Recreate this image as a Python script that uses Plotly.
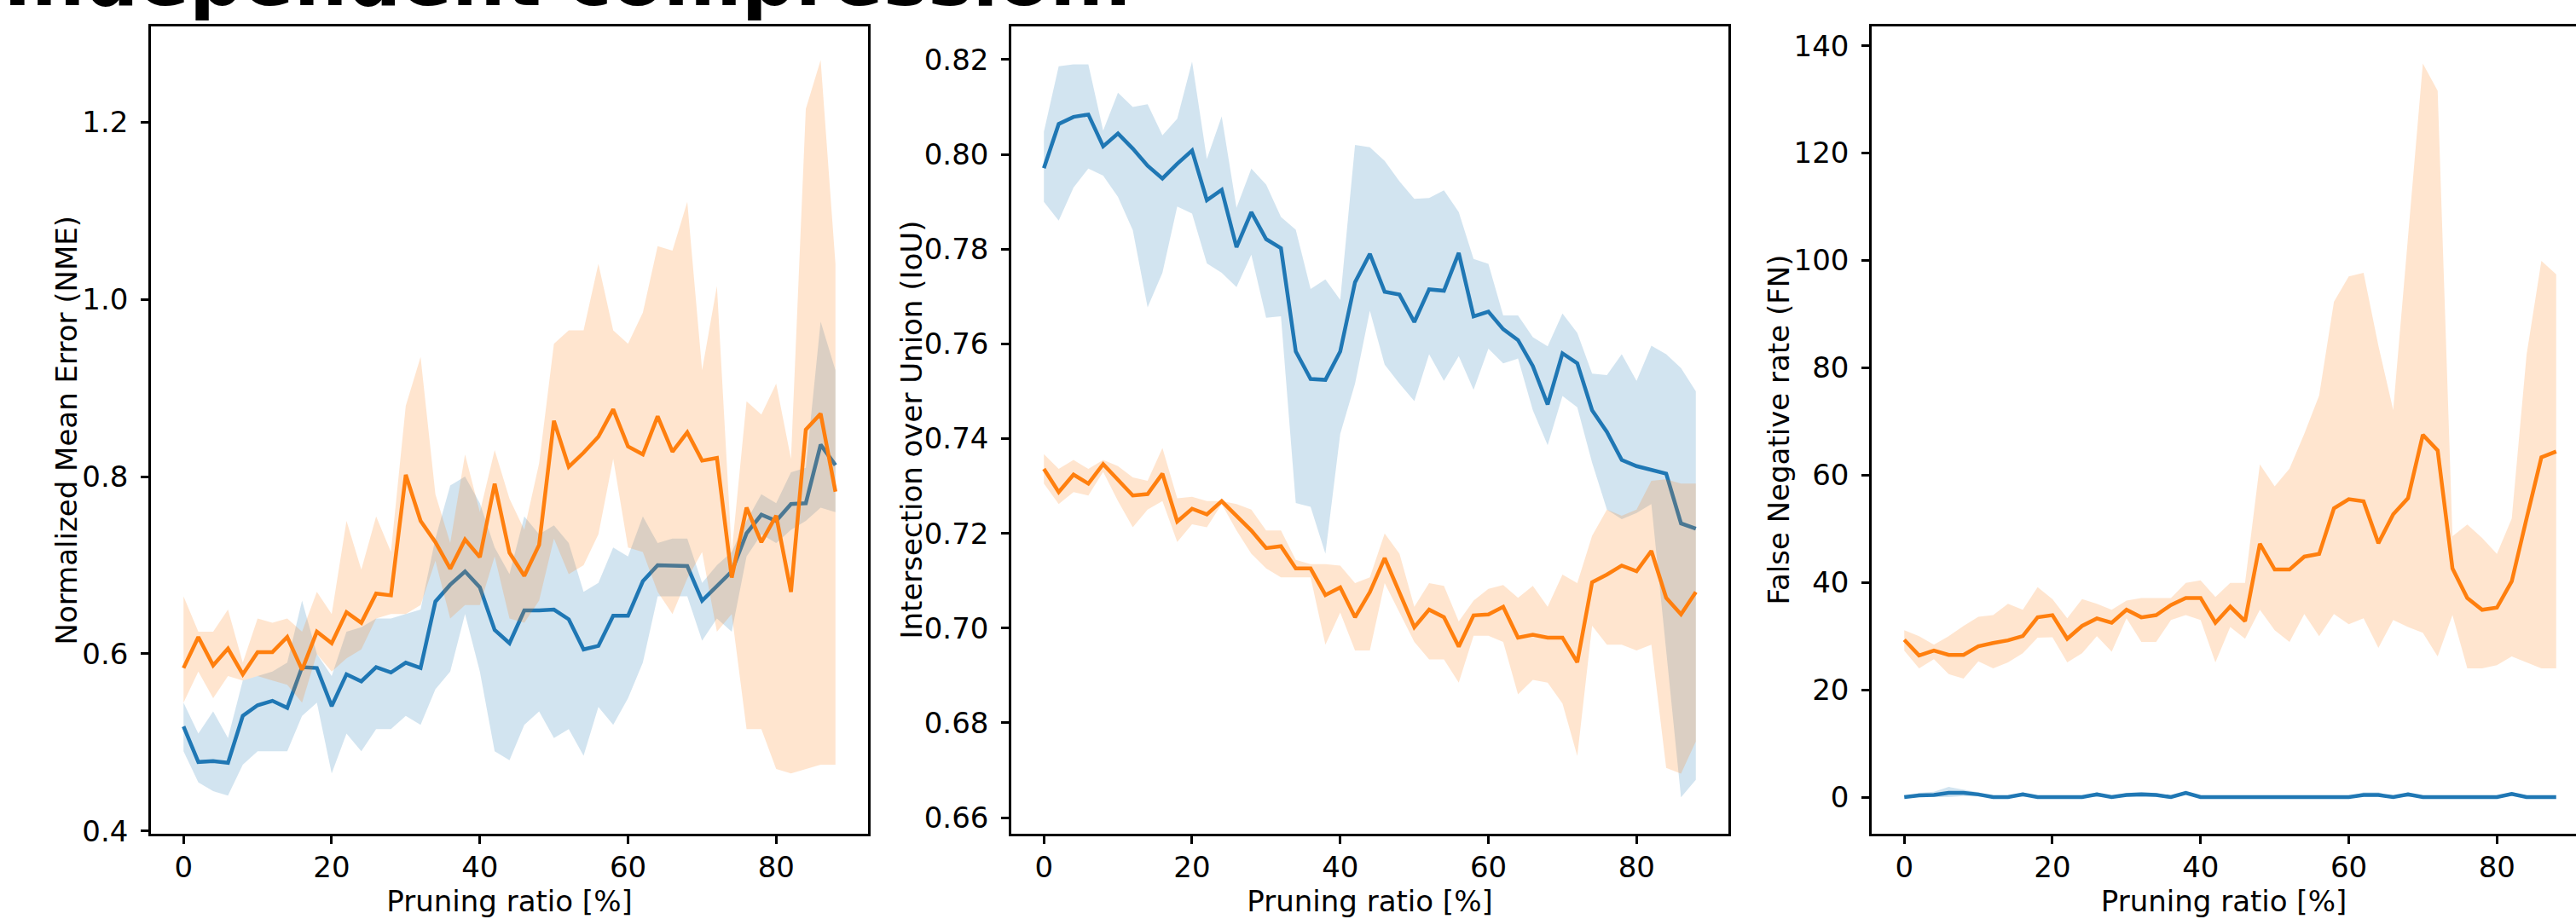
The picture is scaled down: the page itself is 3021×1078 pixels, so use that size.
import plotly.graph_objects as go

# ---------------- data ----------------
pruning = [0, 2, 4, 6, 8, 10, 12, 14, 16, 18, 20, 22, 24, 26, 28, 30, 32, 34, 36, 38,
           40, 42, 44, 46, 48, 50, 52, 54, 56, 58, 60, 62, 64, 66, 68, 70, 72, 74, 76, 78,
           80, 82, 84, 86, 88]

# Panel 1: Normalized Mean Error
nme_blue_mean = [0.518, 0.478, 0.479, 0.477, 0.530, 0.542, 0.547, 0.539, 0.585, 0.584,
                 0.541, 0.577, 0.569, 0.585, 0.579, 0.590, 0.584, 0.659, 0.678, 0.693,
                 0.675, 0.627, 0.612, 0.649, 0.649, 0.650, 0.639, 0.605, 0.609, 0.643,
                 0.643, 0.682, 0.700, 0.699, 0.699, 0.660, 0.676, 0.693, 0.736, 0.757,
                 0.750, 0.769, 0.770, 0.836, 0.813]
nme_blue_low = [0.490, 0.455, 0.445, 0.440, 0.475, 0.490, 0.490, 0.490, 0.530, 0.545,
                0.465, 0.510, 0.490, 0.515, 0.515, 0.530, 0.520, 0.560, 0.580, 0.645,
                0.580, 0.490, 0.480, 0.520, 0.535, 0.505, 0.515, 0.485, 0.540, 0.520,
                0.550, 0.590, 0.665, 0.665, 0.665, 0.615, 0.640, 0.625, 0.710, 0.735,
                0.725, 0.740, 0.750, 0.765, 0.760]
nme_blue_up = [0.545, 0.510, 0.535, 0.505, 0.570, 0.575, 0.580, 0.590, 0.660, 0.600,
               0.575, 0.625, 0.630, 0.640, 0.640, 0.645, 0.650, 0.730, 0.790, 0.800,
               0.770, 0.720, 0.690, 0.755, 0.735, 0.745, 0.725, 0.670, 0.680, 0.720,
               0.710, 0.755, 0.725, 0.730, 0.730, 0.680, 0.700, 0.715, 0.750, 0.780,
               0.770, 0.805, 0.810, 0.975, 0.920]
nme_orange_mean = [0.584, 0.619, 0.587, 0.606, 0.577, 0.602, 0.602, 0.619, 0.582, 0.625,
                   0.612, 0.647, 0.635, 0.668, 0.666, 0.802, 0.750, 0.726, 0.696, 0.729,
                   0.709, 0.792, 0.714, 0.688, 0.723, 0.863, 0.811, 0.827, 0.845, 0.876,
                   0.834, 0.825, 0.868, 0.828, 0.850, 0.818, 0.821, 0.686, 0.765, 0.726,
                   0.756, 0.670, 0.853, 0.871, 0.783]
nme_orange_low = [0.545, 0.580, 0.550, 0.575, 0.570, 0.575, 0.570, 0.565, 0.545, 0.600,
                  0.580, 0.595, 0.605, 0.640, 0.645, 0.645, 0.655, 0.705, 0.640, 0.655,
                  0.655, 0.710, 0.640, 0.635, 0.660, 0.730, 0.690, 0.700, 0.735, 0.820,
                  0.720, 0.715, 0.670, 0.645, 0.685, 0.715, 0.625, 0.645, 0.515, 0.515,
                  0.470, 0.465, 0.470, 0.475, 0.475]
nme_orange_up = [0.665, 0.625, 0.625, 0.650, 0.590, 0.640, 0.635, 0.640, 0.625, 0.670,
                 0.645, 0.750, 0.695, 0.755, 0.715, 0.880, 0.935, 0.780, 0.725, 0.825,
                 0.760, 0.830, 0.775, 0.740, 0.815, 0.950, 0.965, 0.965, 1.040, 0.965,
                 0.950, 0.985, 1.060, 1.055, 1.110, 0.920, 1.015, 0.715, 0.885, 0.870,
                 0.905, 0.820, 1.215, 1.270, 1.040]

# Panel 2: Intersection over Union
iou_blue_mean = [0.7971, 0.8064, 0.8079, 0.8084, 0.8017, 0.8044, 0.8012, 0.7976, 0.7949, 0.7980,
                 0.8008, 0.7903, 0.7925, 0.7804, 0.7878, 0.7821, 0.7802, 0.7584, 0.7526, 0.7524,
                 0.7584, 0.7730, 0.7790, 0.7710, 0.7704, 0.7646, 0.7715, 0.7712, 0.7792, 0.7658,
                 0.7668, 0.7631, 0.7608, 0.7553, 0.7472, 0.7580, 0.7559, 0.7460, 0.7414, 0.7355,
                 0.7342, 0.7333, 0.7326, 0.7221, 0.7210]
iou_blue_up = [0.8048, 0.8186, 0.8190, 0.8190, 0.8050, 0.8130, 0.8100, 0.8106, 0.8040, 0.8075,
               0.8196, 0.7990, 0.8080, 0.7887, 0.7970, 0.7936, 0.7868, 0.7841, 0.7716, 0.7736,
               0.7693, 0.8020, 0.8015, 0.7986, 0.7943, 0.7906, 0.7908, 0.7924, 0.7878, 0.7779,
               0.7769, 0.7660, 0.7660, 0.7614, 0.7595, 0.7664, 0.7623, 0.7537, 0.7534, 0.7578,
               0.7522, 0.7596, 0.7578, 0.7549, 0.7500]
iou_blue_low = [0.7900, 0.7860, 0.7930, 0.7970, 0.7955, 0.7910, 0.7840, 0.7677, 0.7750, 0.7890,
                0.7875, 0.7770, 0.7750, 0.7720, 0.7788, 0.7655, 0.7658, 0.7264, 0.7256, 0.7157,
                0.7410, 0.7516, 0.7670, 0.7556, 0.7516, 0.7479, 0.7578, 0.7522, 0.7574, 0.7503,
                0.7590, 0.7559, 0.7569, 0.7460, 0.7386, 0.7490, 0.7466, 0.7349, 0.7250, 0.7230,
                0.7243, 0.7262, 0.6950, 0.6643, 0.6680]
iou_orange_mean = [0.7336, 0.7287, 0.7324, 0.7305, 0.7346, 0.7314, 0.7280, 0.7283, 0.7326, 0.7225,
                   0.7252, 0.7240, 0.7268, 0.7237, 0.7206, 0.7169, 0.7173, 0.7126, 0.7126, 0.7070,
                   0.7086, 0.7023, 0.7076, 0.7148, 0.7076, 0.7002, 0.7039, 0.7023, 0.6961, 0.7027,
                   0.7029, 0.7045, 0.6980, 0.6986, 0.6980, 0.6980, 0.6928, 0.7097, 0.7113, 0.7132,
                   0.7120, 0.7163, 0.7064, 0.7029, 0.7076]
iou_orange_up = [0.7367, 0.7336, 0.7355, 0.7336, 0.7355, 0.7342, 0.7318, 0.7311, 0.7380, 0.7274,
                 0.7277, 0.7268, 0.7268, 0.7262, 0.7250, 0.7206, 0.7206, 0.7144, 0.7135, 0.7135,
                 0.7132, 0.7095, 0.7107, 0.7200, 0.7157, 0.7045, 0.7095, 0.7089, 0.7014, 0.7058,
                 0.7083, 0.7091, 0.7064, 0.7089, 0.7045, 0.7113, 0.7095, 0.7195, 0.7250, 0.7237,
                 0.7250, 0.7311, 0.7314, 0.7305, 0.7305]
iou_orange_low = [0.7305, 0.7262, 0.7287, 0.7280, 0.7330, 0.7268, 0.7213, 0.7250, 0.7268, 0.7182,
                  0.7219, 0.7213, 0.7262, 0.7206, 0.7157, 0.7126, 0.7107, 0.7107, 0.7107, 0.6965,
                  0.7033, 0.6953, 0.6953, 0.7095, 0.7033, 0.6971, 0.6934, 0.6934, 0.6885, 0.6984,
                  0.6984, 0.6971, 0.6860, 0.6891, 0.6885, 0.6841, 0.6730, 0.7005, 0.6965, 0.6965,
                  0.6953, 0.6965, 0.6705, 0.6693, 0.6761]

# Panel 3: False Negative rate
fn_blue_mean = [0.0, 0.3, 0.4, 0.8, 0.8, 0.5, 0.0, 0.0, 0.5, 0.0,
                0.0, 0.0, 0.0, 0.5, 0.0, 0.4, 0.5, 0.4, 0.0, 0.8,
                0.0, 0.0, 0.0, 0.0, 0.0, 0.0, 0.0, 0.0, 0.0, 0.0,
                0.0, 0.4, 0.4, 0.0, 0.5, 0.0, 0.0, 0.0, 0.0, 0.0,
                0.0, 0.6, 0.0, 0.0, 0.0]
fn_blue_up = [0.0, 0.8, 1.0, 1.9, 1.4, 0.9, 0.0, 0.0, 0.9, 0.0,
              0.0, 0.0, 0.0, 0.9, 0.0, 0.8, 0.9, 0.8, 0.0, 1.1,
              0.0, 0.0, 0.0, 0.0, 0.0, 0.0, 0.0, 0.0, 0.0, 0.0,
              0.0, 0.9, 0.9, 0.0, 0.9, 0.0, 0.0, 0.0, 0.0, 0.0,
              0.0, 1.0, 0.0, 0.0, 0.0]
fn_blue_low = [0.0, 0.0, 0.0, 0.0, 0.2, 0.1, 0.0, 0.0, 0.0, 0.0,
               0.0, 0.0, 0.0, 0.0, 0.0, 0.0, 0.0, 0.0, 0.0, 0.4,
               0.0, 0.0, 0.0, 0.0, 0.0, 0.0, 0.0, 0.0, 0.0, 0.0,
               0.0, 0.0, 0.0, 0.0, 0.0, 0.0, 0.0, 0.0, 0.0, 0.0,
               0.0, 0.2, 0.0, 0.0, 0.0]
fn_orange_mean = [29.3, 26.4, 27.3, 26.5, 26.5, 28.1, 28.7, 29.2, 30.0, 33.5,
                  33.9, 29.5, 31.9, 33.3, 32.5, 34.9, 33.5, 33.9, 35.8, 37.1,
                  37.1, 32.5, 35.5, 32.8, 47.2, 42.4, 42.4, 44.8, 45.3, 53.8,
                  55.5, 55.1, 47.3, 52.7, 55.7, 67.5, 64.6, 42.6, 37.1, 34.9,
                  35.3, 40.2, 51.9, 63.3, 64.4]
fn_orange_up = [31.1, 30.0, 28.4, 30.0, 31.9, 33.6, 33.9, 36.0, 34.9, 39.1,
                36.9, 33.3, 36.9, 36.0, 34.9, 36.6, 37.1, 37.1, 37.1, 39.9,
                40.4, 37.3, 39.9, 39.9, 62.0, 57.9, 61.2, 67.7, 74.8, 92.3,
                97.0, 97.7, 84.1, 72.1, 104.0, 136.7, 131.6, 48.6, 50.8, 48.3,
                45.3, 51.9, 82.4, 99.9, 97.4]
fn_orange_low = [27.3, 24.0, 25.7, 22.9, 22.1, 25.3, 24.0, 25.1, 26.8, 29.7,
                 29.8, 25.1, 26.8, 30.0, 27.1, 33.3, 28.9, 28.9, 33.0, 33.9,
                 33.0, 25.1, 31.7, 29.5, 34.9, 31.1, 28.9, 34.1, 30.0, 34.1,
                 32.2, 33.3, 27.8, 33.0, 31.7, 30.6, 26.2, 33.9, 24.0, 24.0,
                 24.6, 26.2, 25.1, 24.0, 24.0]

title_text = "Independent compression:"
x_label = "Pruning ratio [%]"
y_labels = ["Normalized Mean Error (NME)", "Intersection over Union (IoU)", "False Negative rate (FN)"]
x_ticks = [0, 20, 40, 60, 80]
y_ticks = [[0.4, 0.6, 0.8, 1.0, 1.2],
           [0.66, 0.68, 0.70, 0.72, 0.74, 0.76, 0.78, 0.80, 0.82],
           [0, 20, 40, 60, 80, 100, 120, 140]]

# ---------------- style ----------------
W, H = 3021, 1078
BLUE, ORANGE = "#1f77b4", "#ff7f0e"
BLUE_FILL, ORANGE_FILL = "rgba(31,119,180,0.2)", "rgba(255,127,14,0.2)"
FONT = "DejaVu Sans"
FS = 34

fig = go.Figure()

panels = [
    (nme_blue_mean, nme_blue_low, nme_blue_up, nme_orange_mean, nme_orange_low, nme_orange_up),
    (iou_blue_mean, iou_blue_low, iou_blue_up, iou_orange_mean, iou_orange_low, iou_orange_up),
    (fn_blue_mean, fn_blue_low, fn_blue_up, fn_orange_mean, fn_orange_low, fn_orange_up),
]

for i, (bm, bl, bu, om, ol, ou) in enumerate(panels, start=1):
    xa = "x" if i == 1 else f"x{i}"
    ya = "y" if i == 1 else f"y{i}"
    for m, lo, up, col, fcol in [(bm, bl, bu, BLUE, BLUE_FILL), (om, ol, ou, ORANGE, ORANGE_FILL)]:
        fig.add_trace(go.Scatter(
            x=pruning + pruning[::-1], y=up + lo[::-1], fill="toself", fillcolor=fcol,
            mode="lines", line=dict(width=0, color=fcol), hoverinfo="skip",
            showlegend=False, xaxis=xa, yaxis=ya))
        fig.add_trace(go.Scatter(
            x=pruning, y=m, mode="lines", line=dict(color=col, width=4.5),
            showlegend=False, xaxis=xa, yaxis=ya))

left_px = [177, 1186, 2195]
ylabel_cx = [78, 1069, 2086]
panel_w = 841
px_per_unit = panel_w / 96.8
top_px, bot_px = 31, 978
y_ranges = [[0.397, 1.308], [0.6566, 0.827], [-6.83, 143.6]]
y_fmt = [".1f", ".2f", "d"]

layout = dict(
    width=W, height=H,
    margin=dict(l=0, r=0, t=0, b=0, autoexpand=False),
    paper_bgcolor="white", plot_bgcolor="white",
    font=dict(family=FONT, size=FS, color="black"),
)

for i in range(3):
    x0 = left_px[i] / W
    x1 = min((left_px[i] + panel_w) / W, 1.0)
    xmax = -4.4 + (min(left_px[i] + panel_w, W) - left_px[i]) / px_per_unit
    xkey = "xaxis" if i == 0 else f"xaxis{i+1}"
    ykey = "yaxis" if i == 0 else f"yaxis{i+1}"
    anchor_y = "y" if i == 0 else f"y{i+1}"
    anchor_x = "x" if i == 0 else f"x{i+1}"
    layout[xkey] = dict(
        domain=[x0, x1], anchor=anchor_y, range=[-4.4, xmax],
        tickvals=x_ticks, ticks="outside", ticklen=9, tickwidth=2.5, tickcolor="black",
        showline=True, linecolor="black", linewidth=2.5, mirror=True,
        showgrid=False, zeroline=False, automargin=False,
        tickfont=dict(family=FONT, size=FS, color="black"), ticklabelstandoff=-2,
        title=dict(text=x_label, font=dict(family=FONT, size=FS, color="black"), standoff=0),
    )
    layout[ykey] = dict(
        domain=[(H - bot_px) / H, (H - top_px) / H], anchor=anchor_x, range=y_ranges[i],
        tickvals=y_ticks[i], tickformat=y_fmt[i], ticks="outside", ticklen=9, tickwidth=2.5,
        tickcolor="black", showline=True, linecolor="black", linewidth=2.5,
        mirror=(i < 2), showgrid=False, zeroline=False, automargin=False,
        tickfont=dict(family=FONT, size=FS, color="black"), ticklabelstandoff=8,
    )

fig.update_layout(**layout)

for i in range(3):
    fig.add_annotation(
        text=y_labels[i], xref="paper", yref="paper", textangle=-90,
        x=ylabel_cx[i] / W, y=(H - (top_px + bot_px) / 2) / H,
        xanchor="center", yanchor="middle", showarrow=False,
        font=dict(family=FONT, size=FS, color="black"), borderpad=0, borderwidth=0,
    )

fig.add_annotation(
    text="<b>" + title_text + "</b>", xref="paper", yref="paper",
    x=4 / W, y=(H - 27) / H, xanchor="left", yanchor="bottom", showarrow=False,
    font=dict(family=FONT, size=88, color="black", weight="bold"), borderpad=0, borderwidth=0,
)

fig.write_html(
    "out.html",
    config={"displayModeBar": False},
    post_script="document.body.style.margin='0px';document.body.style.padding='0px';"
                "document.body.style.overflow='hidden';",
)
